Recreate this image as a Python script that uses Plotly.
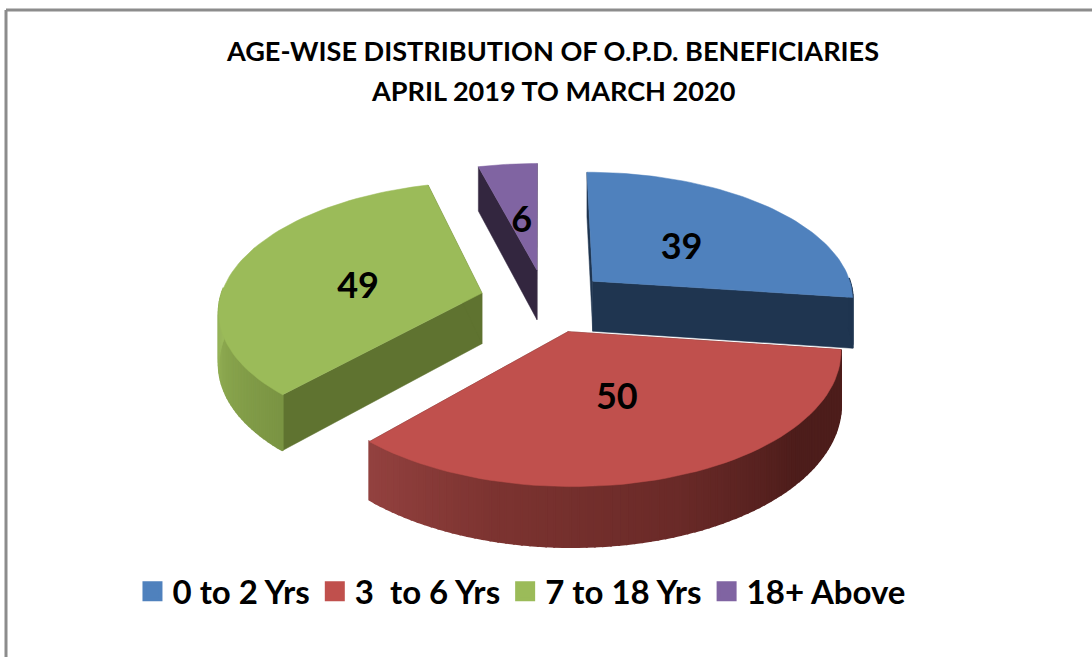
import math
import plotly.graph_objects as go

categories = ["0 to 2 Yrs", "3 \u00a0to 6 Yrs", "7 to 18 Yrs", "18+ Above"]
values = [39, 50, 49, 6]
top_colors = ["#4f81bd", "#c0504d", "#9bbb59", "#8064a2"]
cut_colors = ["#1f3550", "#5a2220", "#5f7330", "#33263f"]
rim_stops = [
    [(90, "#1f3550"), (100, "#1f3550")],
    [(97, "#4d1d1b"), (130, "#4d1d1b"), (160, "#6a2a28"), (195, "#7d3431"), (223, "#944240")],
    [(222, "#7a9443"), (250, "#8aa64e"), (280, "#a0bf60"), (345, "#9bbb59")],
    [(345, "#33263f"), (360, "#33263f")],
]
title_lines = ["AGE-WISE DISTRIBUTION OF O.P.D. BENEFICIARIES", "APRIL 2019 TO MARCH 2020"]

# projection of the tilted pie on to the page
PX, PY, A, B, K, D = 540, 300, 262, 127, 0.125, 51
explode = [(0.205, 0.151), (0.104, -0.2415), (-0.223, 0.055), (-0.012, 0.242)]
LABEL_R = 0.46
label_nudge = [(5, 5), (2, 7), (-10, 9), (-1, 5)]
draw_order = [2, 3, 0, 1]


def proj(X, Y, z=0.0):
    s = 1 / (1 + K * Y)
    return PX + A * X * s, PY - B * Y * s + D * z * s


def hex2rgb(h):
    return [int(h[i:i + 2], 16) for i in (1, 3, 5)]


def rim_color(stops, t):
    if t <= stops[0][0]:
        return stops[0][1]
    for (t0, c0), (t1, c1) in zip(stops, stops[1:]):
        if t <= t1:
            f = (t - t0) / (t1 - t0)
            a, b = hex2rgb(c0), hex2rgb(c1)
            return "rgb(%d,%d,%d)" % tuple(a[i] + (b[i] - a[i]) * f for i in range(3))
    return stops[-1][1]


def poly(pts, color, name=None, lw=0.5):
    xs = [p[0] for p in pts] + [pts[0][0]]
    ys = [p[1] for p in pts] + [pts[0][1]]
    return go.Scatter(x=xs, y=ys, mode="lines", fill="toself", fillcolor=color,
                      line=dict(width=lw, color=color), hoverinfo="skip",
                      showlegend=False, name=name)


total = sum(values)
starts, c = [], 0.0
for v in values:
    starts.append(c)
    c += v / total * 360

fig = go.Figure()
label_x, label_y = [], []
for i in range(len(values)):
    a0 = starts[i]
    a1 = a0 + values[i] / total * 360
    ox, oy = explode[i]
    mid = math.radians((a0 + a1) / 2)
    lx, ly = proj(ox + LABEL_R * math.sin(mid), oy + LABEL_R * math.cos(mid))
    label_x.append(lx + label_nudge[i][0])
    label_y.append(ly + label_nudge[i][1])

for i in draw_order:
    a0 = starts[i]
    a1 = a0 + values[i] / total * 360
    ox, oy = explode[i]

    def edge(t, z=0.0):
        r = math.radians(t)
        return proj(ox + math.sin(r), oy + math.cos(r), z)

    # cut faces
    for t in (a0, a1):
        fig.add_trace(poly([proj(ox, oy), edge(t), edge(t, 1), proj(ox, oy, 1)], cut_colors[i]))
    # outer rim, front-facing part only
    n = max(4, int((a1 - a0) / 1.5))
    for j in range(n):
        t0 = a0 + (a1 - a0) * j / n
        t1 = a0 + (a1 - a0) * (j + 1) / n
        if math.cos(math.radians((t0 + t1) / 2)) > 0.03:
            continue
        fig.add_trace(poly([edge(t0), edge(t1), edge(t1, 1), edge(t0, 1)],
                           rim_color(rim_stops[i], (t0 + t1) / 2), lw=2))
    # top face
    n = 60
    pts = [proj(ox, oy)] + [edge(a0 + (a1 - a0) * j / n) for j in range(n + 1)]
    fig.add_trace(poly(pts, top_colors[i], categories[i]))

fig.add_trace(go.Scatter(x=label_x, y=label_y, mode="text", text=[str(v) for v in values],
                         textposition="middle center", hoverinfo="skip", showlegend=False,
                         textfont=dict(family="Lato", size=36, color="#000000", weight=700)))

for i in range(len(values)):
    fig.add_trace(go.Scatter(x=[None], y=[None], mode="markers", name=categories[i],
                             marker=dict(symbol="square", size=16, color=top_colors[i],
                                         line=dict(width=4, color=top_colors[i]))))

title_font = dict(family="Lato", size=27.1, color="#000000", weight=700)
fig.update_layout(
    width=1092, height=657, margin=dict(l=0, r=0, t=0, b=0),
    paper_bgcolor="#ffffff", plot_bgcolor="#ffffff",
    xaxis=dict(range=[0, 1092], visible=False, fixedrange=True),
    yaxis=dict(range=[657, 0], visible=False, fixedrange=True),
    title=dict(text=title_lines[0], x=553 / 1092, xanchor="center", y=1 - 52 / 657, yanchor="middle",
               font=title_font),
    annotations=[dict(text=title_lines[1], xref="paper", yref="paper", x=553 / 1092, y=1 - 90 / 657,
                      xanchor="center", yanchor="middle", showarrow=False, font=title_font)],
    legend=dict(orientation="h", x=0.478, xanchor="center", y=0.1, yanchor="middle",
                font=dict(family="Lato", size=33, color="#000000", weight=700),
                bgcolor="rgba(0,0,0,0)"),
    shapes=[
        dict(type="line", xref="paper", yref="paper", x0=6 / 1092, x1=6 / 1092, y0=0, y1=1 - 10 / 657,
             line=dict(color="#8c8c8c", width=3)),
        dict(type="line", xref="paper", yref="paper", x0=6 / 1092, x1=1, y0=1 - 10 / 657, y1=1 - 10 / 657,
             line=dict(color="#8c8c8c", width=3)),
    ],
)
fig.write_html("out.html", config=dict(displayModeBar=False),
               post_script="document.body.style.margin='0';")
